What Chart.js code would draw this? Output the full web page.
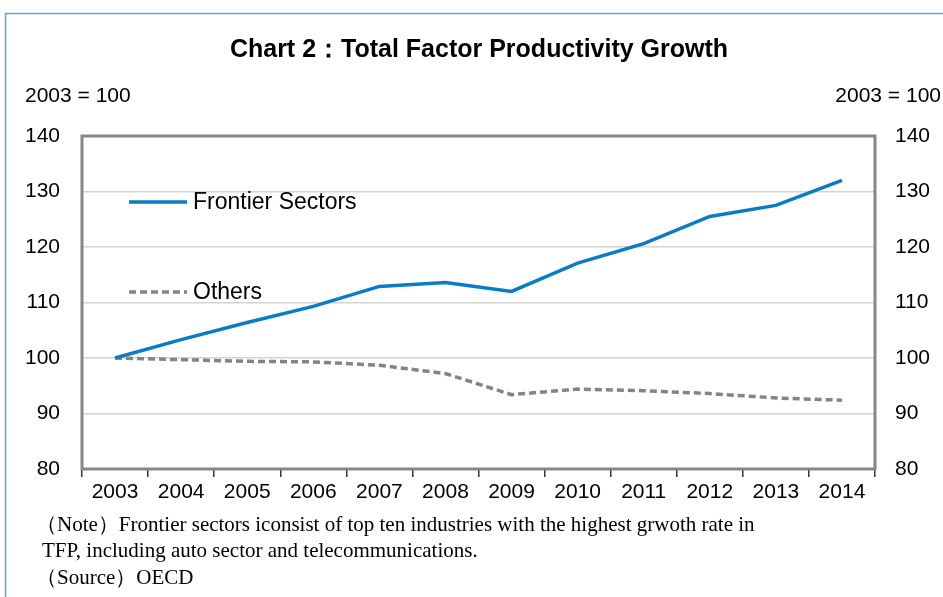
<!DOCTYPE html>
<html>
<head>
<meta charset="utf-8">
<script src="https://cdn.jsdelivr.net/npm/chart.js@4"></script>
<style>
  html, body { margin: 0; padding: 0; background: #fff; }
  #wrap { width: 943px; height: 597px; position: relative; }
</style>
</head>
<body>
<div id="wrap"><canvas id="tfp_chart" width="943" height="597"></canvas></div>
<script>
// data
const years = ['2003','2004','2005','2006','2007','2008','2009','2010','2011','2012','2013','2014'];
const frontier = [100, 103.3, 106.4, 109.3, 112.9, 113.6, 112.0, 117.1, 120.6, 125.5, 127.5, 132.0];
const others = [100, 99.7, 99.4, 99.3, 98.7, 97.2, 93.4, 94.4, 94.1, 93.6, 92.8, 92.4];
const series_names = ['Frontier Sectors', 'Others'];
const y_min = 80, y_max = 140, y_step = 10;

const title_text = 'Chart 2\uFF1ATotal Factor Productivity Growth';
const unit_text = '2003 = 100';
const note_lines = [
  '\uFF08Note\uFF09Frontier sectors iconsist of top ten industries with the highest grwoth rate in',
  'TFP, including auto sector and telecommunications.',
  '\uFF08Source\uFF09OECD'
];

const sans = '"Liberation Sans", Arial, sans-serif';

// ritar rubrik, enhetstext, ram, legend och not
const extras = {
  id: 'extras',
  beforeDraw(chart) {
    const c = chart.ctx;
    c.save();
    c.fillStyle = '#fff';
    c.fillRect(0, 0, chart.width, chart.height);
    // blå ram runt sidan
    c.strokeStyle = '#6f9bd3';
    c.lineWidth = 1.5;
    c.beginPath();
    c.moveTo(5.5, chart.height);
    c.lineTo(5.5, 13.5);
    c.lineTo(chart.width, 13.5);
    c.stroke();
    c.restore();
  },
  afterDraw(chart) {
    const c = chart.ctx;
    const a = chart.chartArea;
    c.save();
    // tjock grå ram runt plotytan
    c.strokeStyle = '#878787';
    c.lineWidth = 3;
    c.strokeRect(a.left, a.top, a.right - a.left, a.bottom - a.top);

    c.fillStyle = '#000';
    c.textBaseline = 'middle';
    c.font = 'bold 25px ' + sans;
    c.textAlign = 'center';
    c.fillText(title_text, 479, 50);

    c.font = '21px ' + sans;
    c.textAlign = 'left';
    c.fillText(unit_text, 25, 96);
    c.textAlign = 'right';
    c.fillText(unit_text, 941, 96);

    // legend inne i plotytan
    const leg_y = [202, 292];
    chart.data.datasets.forEach((ds, i) => {
      c.strokeStyle = ds.borderColor;
      c.lineWidth = ds.borderWidth;
      c.setLineDash(ds.borderDash || []);
      c.beginPath();
      c.moveTo(129, leg_y[i]);
      c.lineTo(187, leg_y[i]);
      c.stroke();
      c.setLineDash([]);
      c.fillStyle = '#000';
      c.font = '23px ' + sans;
      c.textAlign = 'left';
      c.fillText(ds.label, 193, leg_y[i] + 1);
    });

    // not och källa
    c.font = '21px "Liberation Serif", "Times New Roman", serif';
    c.textAlign = 'left';
    c.fillText(note_lines[0], 36, 525);
    c.fillText(note_lines[1], 42, 551);
    c.fillText(note_lines[2], 36, 578);
    c.restore();
  }
};

const ctx = document.getElementById('tfp_chart');
new Chart(ctx, {
  type: 'line',
  data: {
    labels: years,
    datasets: [
      {
        label: series_names[0],
        data: frontier,
        borderColor: '#0a7cc4',
        borderWidth: 3.5,
        pointRadius: 0,
        tension: 0,
        yAxisID: 'y'
      },
      {
        label: series_names[1],
        data: others,
        borderColor: '#848484',
        borderWidth: 3.5,
        borderDash: [7, 4],
        pointRadius: 0,
        tension: 0,
        yAxisID: 'y'
      }
    ]
  },
  options: {
    responsive: false,
    animation: false,
    layout: { padding: { top: 136, left: 0, right: 0, bottom: 0 } },
    plugins: {
      legend: { display: false },
      title: { display: false },
      tooltip: { enabled: false }
    },
    scales: {
      x: {
        offset: true,
        grid: {
          offset: true,
          drawOnChartArea: false,
          drawTicks: true,
          tickLength: 8,
          color: '#333',
          lineWidth: 1.5
        },
        border: { display: false },
        ticks: {
          color: '#000',
          padding: 3,
          maxRotation: 0,
          autoSkip: false,
          font: { family: sans, size: 21 }
        },
        afterFit(scale) { scale.height = 128; }
      },
      y: {
        position: 'left',
        min: y_min,
        max: y_max,
        ticks: {
          stepSize: y_step,
          color: '#000',
          padding: 22,
          font: { family: sans, size: 21 }
        },
        grid: { color: '#d4d4d4', lineWidth: 1.5, drawTicks: false },
        border: { display: false },
        afterFit(scale) { scale.width = 82; }
      },
      y2: {
        position: 'right',
        min: y_min,
        max: y_max,
        ticks: {
          stepSize: y_step,
          color: '#000',
          padding: 20,
          font: { family: sans, size: 21 }
        },
        grid: { drawOnChartArea: false, drawTicks: false },
        border: { display: false },
        afterFit(scale) { scale.width = 68; }
      }
    }
  },
  plugins: [extras]
});
</script>
</body>
</html>
